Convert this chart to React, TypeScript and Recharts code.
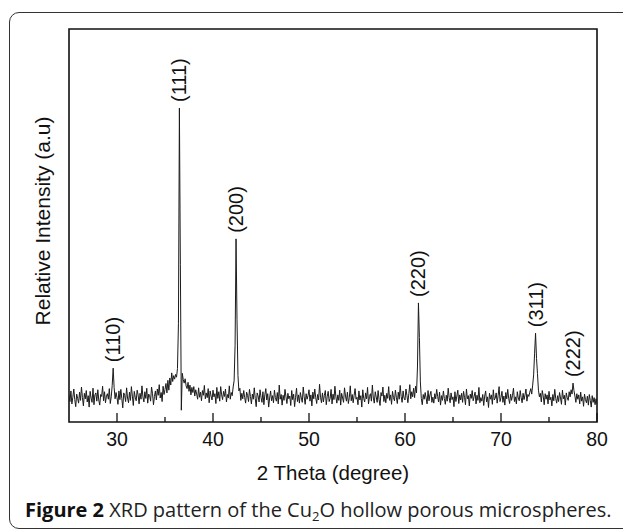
import React from 'react'
import { ComposedChart, Line, Scatter, XAxis, YAxis, ReferenceArea } from 'recharts'

// scan starts at 25° and steps 0.1° up to 80°
const startAngle = 25
const stepAngle = 0.1

const intensity: number[] = [
  6.8, 5.2, 7.9, 4.6, 6.3, 8.4, 5.7, 3.9, 7.1, 6.0,
  4.8, 7.6, 5.5, 8.9, 6.2, 4.1, 7.3, 5.9, 8.0, 5.1,
  6.7, 3.8, 7.8, 6.1, 5.0, 8.6, 4.4, 6.9, 7.4, 5.3,
  8.2, 5.6, 4.3, 7.0, 6.5, 9.1, 5.4, 7.7, 4.9, 6.6,
  7.2, 5.8, 8.5, 4.7, 6.4, 9.3, 13.7, 8.8, 5.9, 7.5,
  6.2, 4.5, 7.9, 5.7, 8.3, 6.0, 3.6, 7.4, 6.8, 5.2,
  8.7, 6.1, 4.9, 7.6, 5.5, 9.0, 6.6, 4.2, 7.8, 6.3,
  5.4, 8.1, 6.9, 4.6, 7.3, 5.8, 9.2, 6.4, 5.1, 7.7,
  6.0, 8.6, 4.8, 7.1, 6.7, 5.3, 8.9, 7.2, 4.4, 6.5,
  7.9, 5.6, 8.4, 6.8, 9.5, 6.1, 7.5, 5.2, 9.1, 7.0,
  8.3, 9.8, 7.4, 10.6, 8.1, 11.2, 9.4, 12.5, 10.3, 11.8,
  10.9, 12.1, 11.4, 13.6, 25.0, 79.9, 40.0, 3.0, 12.4, 10.8,
  9.9, 11.0, 9.2, 8.5, 10.1, 7.8, 9.4, 6.9, 8.8, 7.5,
  9.0, 6.6, 8.2, 7.1, 5.8, 8.7, 6.3, 7.6, 5.4, 8.0,
  6.8, 9.3, 5.9, 7.4, 6.2, 8.5, 4.9, 7.9, 6.6, 5.6,
  8.1, 6.4, 7.2, 4.7, 8.8, 6.0, 7.7, 5.3, 9.0, 6.9,
  5.7, 7.8, 6.5, 8.4, 5.1, 7.0, 6.1, 9.2, 5.8, 7.5,
  6.7, 8.9, 10.5, 19.5, 46.6, 26.0, 11.8, 7.9, 8.6, 5.5,
  7.3, 5.9, 8.0, 6.2, 4.8, 7.6, 6.8, 5.2, 8.3, 6.5,
  4.6, 7.1, 5.8, 8.7, 6.0, 3.9, 7.4, 6.6, 5.1, 8.2,
  6.3, 5.0, 7.7, 4.4, 6.9, 8.5, 5.6, 7.2, 3.8, 6.1,
  7.9, 5.4, 6.7, 4.9, 8.1, 6.2, 5.3, 7.5, 4.6, 9.4,
  5.8, 7.0, 4.3, 6.8, 5.5, 8.3, 6.4, 4.7, 7.3, 5.9,
  6.6, 4.2, 8.0, 5.7, 7.1, 3.9, 6.3, 8.6, 5.2, 6.9,
  4.8, 7.5, 6.1, 5.0, 8.9, 6.4, 4.5, 7.2, 5.8, 6.7,
  8.2, 5.3, 6.9, 4.1, 7.6, 5.9, 8.4, 6.2, 4.7, 7.0,
  5.6, 9.6, 6.3, 4.9, 7.4, 5.1, 6.8, 8.0, 4.4, 6.5,
  7.8, 5.2, 6.0, 8.3, 4.6, 7.1, 5.7, 9.1, 6.4, 4.8,
  6.9, 5.5, 8.1, 4.3, 7.3, 6.1, 5.0, 8.7, 6.6, 5.3,
  7.6, 4.7, 6.2, 9.2, 5.4, 7.0, 4.9, 6.8, 8.5, 5.8,
  6.3, 4.4, 7.9, 5.6, 6.7, 3.8, 8.2, 6.0, 5.1, 7.4,
  5.9, 8.8, 4.6, 6.5, 7.2, 5.3, 9.4, 6.1, 4.8, 7.7,
  6.4, 5.0, 8.0, 5.7, 4.2, 7.5, 6.6, 8.9, 5.2, 6.8,
  4.9, 7.3, 6.0, 9.0, 5.5, 6.9, 4.5, 7.8, 6.2, 5.4,
  8.1, 6.3, 4.7, 7.6, 5.8, 9.3, 6.5, 5.0, 7.9, 6.1,
  5.6, 8.4, 6.8, 4.9, 7.2, 9.5, 5.9, 7.7, 6.4, 8.6,
  6.2, 9.1, 7.4, 14.0, 30.3, 21.5, 10.2, 6.0, 4.4, 7.0,
  5.8, 7.5, 6.1, 4.6, 8.0, 5.4, 6.9, 7.8, 5.0, 6.3,
  4.8, 7.2, 5.9, 8.3, 6.5, 5.1, 7.6, 4.3, 6.7, 5.5,
  7.9, 6.0, 4.5, 6.8, 5.3, 8.6, 6.2, 4.9, 7.4, 5.7,
  6.4, 3.9, 7.7, 5.2, 6.6, 8.1, 4.7, 6.9, 5.6, 7.3,
  5.0, 7.8, 6.3, 4.4, 8.4, 5.9, 6.7, 4.1, 7.1, 6.0,
  8.0, 5.4, 6.5, 7.6, 4.6, 6.8, 5.5, 8.8, 4.9, 6.2,
  5.3, 7.0, 4.2, 6.6, 7.9, 5.1, 6.4, 3.7, 7.3, 5.8,
  6.9, 4.5, 8.2, 5.6, 6.1, 7.4, 4.8, 6.7, 9.0, 5.2,
  6.3, 7.8, 5.0, 6.6, 4.3, 7.5, 5.9, 8.3, 6.0, 4.7,
  7.1, 5.5, 6.8, 8.6, 5.2, 6.4, 4.6, 7.7, 6.1, 5.4,
  8.0, 6.2, 4.9, 7.3, 5.7, 6.9, 8.4, 5.3, 7.0, 6.5,
  7.6, 8.5, 7.1, 9.4, 12.0, 17.5, 22.6, 16.2, 12.3, 8.1,
  6.4, 7.3, 5.1, 8.0, 6.6, 4.4, 7.2, 5.8, 6.9, 4.6,
  7.8, 5.6, 6.3, 4.1, 7.0, 5.4, 8.3, 6.0, 4.8, 6.7,
  5.2, 7.5, 6.1, 4.5, 8.1, 5.9, 6.8, 4.3, 7.4, 6.2,
  5.5, 7.7, 6.4, 8.2, 7.1, 9.9, 8.0, 6.6, 5.0, 7.2,
  5.8, 6.9, 4.6, 7.6, 5.3, 6.4, 4.0, 7.1, 5.7, 4.9,
  6.6, 4.3, 7.0, 5.5, 3.8, 6.7, 5.0, 6.2, 4.4, 5.9,
  4.7,
]

// reflections
const hkl = ['(110)', '(111)', '(200)', '(220)', '(311)', '(222)']
const peakAngle = [29.6, 36.5, 42.4, 61.4, 73.6, 77.5]
const peakHeight = [13.7, 79.9, 46.6, 30.3, 22.6, 9.9]

const xTicks = [30, 35, 40, 45, 50, 55, 60, 65, 70, 75, 80]

const font = '"Liberation Sans", Arial, sans-serif'

const data = intensity.map((v, i) => ({
  x: +(startAngle + i * stepAngle).toFixed(1),
  i: v
}))
const peaks = hkl.map((name, k) => ({ x: peakAngle[k], y: peakHeight[k], name }))

const XTick = (props: any) => {
  const { x, y, payload } = props
  const major = payload.value % 10 === 0
  return (
    <g>
      <line x1={x} x2={x} y1={y} y2={y - (major ? 9 : 5)} stroke="#111" strokeWidth={1.3} />
      {major && (
        <text x={x} y={y + 24} textAnchor="middle" fontSize={19.5} fontFamily={font} fill="#111">
          {payload.value}
        </text>
      )}
    </g>
  )
}

const PeakLabel = (props: any) => {
  const { cx, cy, payload } = props
  const y = cy - 6
  return (
    <text x={cx} y={y} dy="0.35em" transform={`rotate(-90 ${cx} ${y})`}
      fontSize={20} fontFamily={font} fill="#111">
      {payload.name}
    </text>
  )
}

const XTitle = () => (
  <text x={333} y={480} textAnchor="middle" fontSize={20.5} fontFamily={font} fill="#111">
    2 Theta (degree)
  </text>
)

const YTitle = () => (
  <text x={43} y={221} dy="0.35em" textAnchor="middle" transform="rotate(-90 43 221)"
    fontSize={21} fontFamily={font} fill="#111">
    Relative Intensity (a.u)
  </text>
)

export default function App() {
  return (
    <div style={{ position: 'relative', width: 623, height: 529, background: '#fff', overflow: 'hidden' }}>
      <style>{'body{margin:0}'}</style>
      <div style={{
        position: 'absolute', left: 9, top: 12, width: 700, height: 515,
        border: '1.5px solid #333', borderRadius: 10
      }} />
      <div style={{ position: 'absolute', left: 0, top: 0 }}>
        <ComposedChart width={623} height={529} data={data}
          margin={{ top: 29, right: 26, left: 0, bottom: 67 }}>
          <XAxis dataKey="x" type="number" domain={[25, 80]} ticks={xTicks} interval={0}
            axisLine={false} tickLine={false} tickSize={0} tickMargin={0} height={40}
            tick={<XTick />} label={<XTitle />} allowDataOverflow />
          <YAxis type="number" domain={[0, 100]} width={69} tick={false} axisLine={false}
            tickLine={false} label={<YTitle />} allowDataOverflow />
          <ReferenceArea x1={25} x2={80} y1={0} y2={100} fill="none" fillOpacity={0}
            stroke="#111" strokeWidth={1.6} />
          <Line type="linear" dataKey="i" stroke="#1b1b1b" strokeWidth={1} dot={false}
            isAnimationActive={false} />
          <Scatter data={peaks} dataKey="y" shape={<PeakLabel />} isAnimationActive={false} />
        </ComposedChart>
      </div>
      <div style={{
        position: 'absolute', left: 25, top: 496, whiteSpace: 'nowrap', lineHeight: '27px',
        fontFamily: '"Open Sans", "Noto Sans", sans-serif', fontSize: 20, color: '#222'
      }}>
        <b style={{ color: '#111' }}>Figure 2</b> XRD pattern of the Cu
        <span style={{ fontSize: 13, position: 'relative', top: 4 }}>2</span>O hollow porous microspheres.
      </div>
    </div>
  )
}
